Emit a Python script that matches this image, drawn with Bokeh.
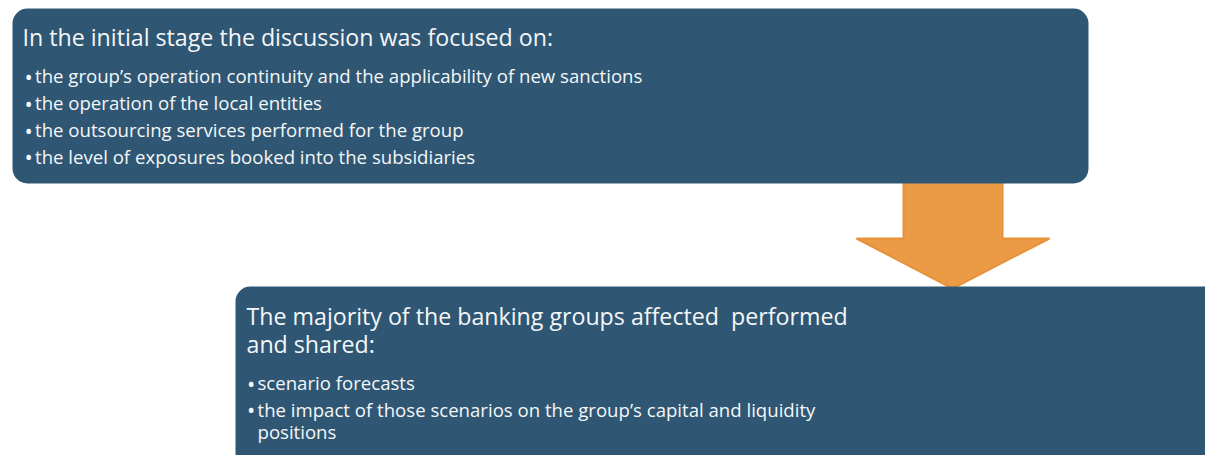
from bokeh.plotting import figure
from bokeh.models import Range1d
from bokeh.core.properties import value
from bokeh.embed import file_html
from bokeh.resources import INLINE

# ---- content ----
top_title = ["In the initial stage the discussion was focused on:"]
top_bullets = [
    "the group\u2019s operation continuity and the applicability of new sanctions",
    "the operation of the local entities",
    "the outsourcing services performed for the group",
    "the level of exposures booked into the subsidiaries",
]
bottom_title = ["The majority of the banking groups affected  performed", "and shared:"]
bottom_bullets = [
    ["scenario forecasts"],
    ["the impact of those scenarios on the group\u2019s capital and liquidity", "positions"],
]

BOX = "#2F5673"
TXT = "#F4F6F8"
FONT = value("Open Sans")
TS = "23.2px"
BS = "18.6px"
DS = "22px"

W, H = 1205, 455
p = figure(width=W, height=H, output_backend="svg", toolbar_location=None,
           x_range=Range1d(0, W), y_range=Range1d(H, 0),
           x_axis_location=None, y_axis_location=None, min_border=0)
p.grid.visible = False
p.outline_line_color = None
p.background_fill_color = "white"
p.border_fill_color = "white"

# arrow
ax = [903, 1002, 1002, 1049, 952, 856, 903]
ay = [175, 175, 238, 238, 288, 238, 238]
p.patch(ax, ay, fill_color="#EB9A45", line_color="#E8913A", line_width=2)

# boxes
p.quad(left=[12, 235], right=[1088, 1222], top=[8, 286], bottom=[183, 480],
       fill_color=BOX, line_color=None, border_radius=15)

# top texts
p.text(x=[22], y=[36], text=top_title, text_color=TXT, text_font=FONT,
       text_font_size=TS, text_baseline="middle")
ty = [75, 102, 129, 155.5]
p.text(x=[24] * len(top_bullets), y=ty, text=["\u2022"] * len(top_bullets),
       text_color=TXT, text_font=FONT, text_font_size=DS, text_baseline="middle")
p.text(x=[34.5] * len(top_bullets), y=ty, text=top_bullets, text_color=TXT,
       text_font=FONT, text_font_size=BS, text_baseline="middle")

# bottom texts
disp_title = [t.replace("  ", " \u00a0") for t in bottom_title]
p.text(x=[246, 246], y=[315.5, 343.5], text=disp_title, text_color=TXT, text_font=FONT,
       text_font_size=TS, text_baseline="middle")
by = [382, 408.5]
p.text(x=[246.5, 246.5], y=by, text=["\u2022", "\u2022"], text_color=TXT, text_font=FONT,
       text_font_size=DS, text_baseline="middle")
p.text(x=[257, 257], y=by, text=[b[0] for b in bottom_bullets], text_color=TXT,
       text_font=FONT, text_font_size=BS, text_baseline="middle")
p.text(x=[257], y=[431], text=[bottom_bullets[1][1]], text_color=TXT,
       text_font=FONT, text_font_size=BS, text_baseline="middle")

open("out.html", "w").write(file_html(p, INLINE))
